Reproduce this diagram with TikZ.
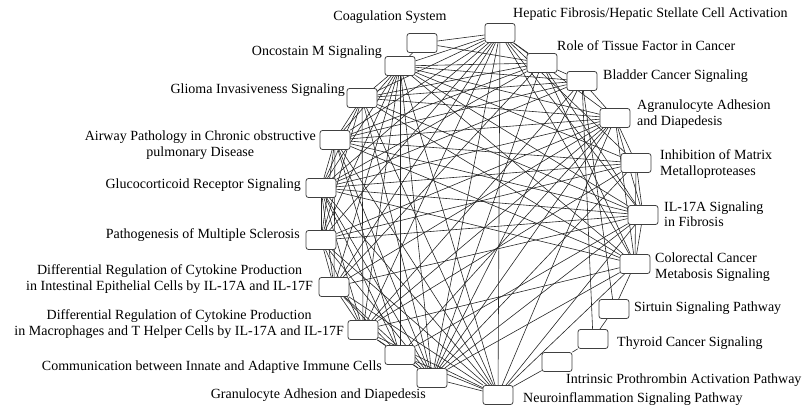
\documentclass[tikz,border=0pt]{standalone}
\usepackage{fontspec}
\setmainfont{Liberation Serif}
\usetikzlibrary{positioning, backgrounds}
\tikzset{
    pathbox/.style={rectangle, draw=black!75, fill=white, rounded corners=2.5pt, minimum width=30pt, minimum height=19pt, inner sep=0pt, line width=0.8pt},
    pathlabel/.style={font=\fontsize{14}{15.5}\selectfont, inner sep=0pt, align=#1},
    pathlabel/.default=center,
    pathlink/.style={black!85, line width=0.6pt}
}

\begin{document}
\begin{tikzpicture}[x=1pt, y=-1pt]
\useasboundingbox (0,0) rectangle (807,412);

% pathway boxes, clockwise from the top
\node[pathbox] (hep) at (500,33) {};
\node[pathbox] (tissue) at (542,63) {};
\node[pathbox] (bladder) at (582,81) {};
\node[pathbox] (agran) at (615,118) {};
\node[pathbox] (inhib) at (636,163) {};
\node[pathbox] (ilfib) at (643,215) {};
\node[pathbox] (colo) at (635,264) {};
\node[pathbox] (sirt) at (614,309) {};
\node[pathbox] (thyr) at (593,339) {};
\node[pathbox] (intr) at (557,362) {};
\node[pathbox] (neuro) at (498,395) {};
\node[pathbox] (gran) at (432,378) {};
\node[pathbox] (comm) at (400,355) {};
\node[pathbox] (diffmac) at (363,330) {};
\node[pathbox] (diffint) at (334,287) {};
\node[pathbox] (ms) at (321,240) {};
\node[pathbox] (gluco) at (321,188) {};
\node[pathbox] (airway) at (335,140) {};
\node[pathbox] (glioma) at (362,98) {};
\node[pathbox] (onco) at (400,66) {};
\node[pathbox] (coag) at (422,43) {};

% labels
\node[pathlabel] (coagl) at (390,17) {Coagulation System};
\node[pathlabel, anchor=west] (hepl) at (513,14) {Hepatic Fibrosis/Hepatic Stellate Cell Activation};
\node[pathlabel, anchor=west] (tissuel) at (557,46) {Role of Tissue Factor in Cancer};
\node[pathlabel, anchor=west] (bladderl) at (603,76) {Bladder Cancer Signaling};
\node[pathlabel=left, anchor=west] (agranl) at (637,114) {Agranulocyte Adhesion\\and Diapedesis};
\node[pathlabel=left, anchor=west] (inhibl) at (660,164) {Inhibition of Matrix\\Metalloproteases};
\node[pathlabel=left, anchor=west] (ilfibl) at (664,214) {IL-17A Signaling\\in Fibrosis};
\node[pathlabel=left, anchor=west] (colol) at (655,267) {Colorectal Cancer\\Metabosis Signaling};
\node[pathlabel, anchor=west] (sirtl) at (634,308) {Sirtuin Signaling Pathway};
\node[pathlabel, anchor=west] (thyrl) at (617,343) {Thyroid Cancer Signaling};
\node[pathlabel, anchor=west] (intrl) at (566,380) {Intrinsic Prothrombin Activation Pathway};
\node[pathlabel, anchor=west] (neurol) at (523,399) {Neuroinflammation Signaling Pathway};
\node[pathlabel, anchor=east] (granl) at (426,395) {Granulocyte Adhesion and Diapedesis};
\node[pathlabel, anchor=east] (comml) at (382,367) {Communication between Innate and Adaptive Immune Cells};
\node[pathlabel, anchor=east] (diffmacl) at (344,324) {Differential Regulation of Cytokine Production\\in Macrophages and T Helper Cells by IL-17A and IL-17F};
\node[pathlabel, anchor=east] (diffintl) at (313,279) {Differential Regulation of Cytokine Production\\in Intestinal Epithelial Cells by IL-17A and IL-17F};
\node[pathlabel, anchor=east] (msl) at (300,235) {Pathogenesis of Multiple Sclerosis};
\node[pathlabel, anchor=east] (glucol) at (301,185) {Glucocorticoid Receptor Signaling};
\node[pathlabel, anchor=east] (airwayl) at (316,145) {Airway Pathology in Chronic obstructive\\pulmonary Disease};
\node[pathlabel, anchor=east] (gliomal) at (345,90) {Glioma Invasiveness Signaling};
\node[pathlabel, anchor=east] (oncol) at (382,52) {Oncostain M Signaling};

% shared molecules between pathways
\begin{scope}[on background layer]
    \foreach \t in {tissue,agran,inhib,ilfib,colo,neuro,gran,diffmac,diffint,ms,gluco,airway,glioma,onco,coag} \draw[pathlink] (hep) -- (\t);
    \foreach \t in {bladder,ilfib,colo,gran,diffint,gluco,airway,glioma,onco,coag} \draw[pathlink] (tissue) -- (\t);
    \foreach \t in {agran,thyr,sirt,gran,gluco,airway,glioma,onco,diffmac} \draw[pathlink] (bladder) -- (\t);
    \foreach \t in {inhib,ilfib,colo,neuro,gran,comm,diffmac,diffint,ms,gluco,airway,glioma,onco} \draw[pathlink] (agran) -- (\t);
    \foreach \t in {ilfib,colo,gran,diffmac,ms,gluco,airway,onco} \draw[pathlink] (inhib) -- (\t);
    \foreach \t in {colo,neuro,gran,comm,diffint,ms,gluco,airway,glioma,onco} \draw[pathlink] (ilfib) -- (\t);
    \foreach \t in {sirt,neuro,gran,diffmac,gluco,airway,glioma,onco} \draw[pathlink] (colo) -- (\t);
    \draw[pathlink] (sirt) -- (thyr);
    \draw[pathlink] (thyr) -- (intr);
    \draw[pathlink] (intr) -- (neuro);
    \foreach \t in {gran,comm,diffmac,diffint,ms,gluco,airway,glioma,onco} \draw[pathlink] (neuro) -- (\t);
    \foreach \t in {comm,diffmac,diffint,ms,gluco,airway,glioma,onco} \draw[pathlink] (gran) -- (\t);
    \foreach \t in {diffmac,diffint,gluco,airway,onco} \draw[pathlink] (comm) -- (\t);
    \foreach \t in {diffint,ms,gluco,glioma,onco} \draw[pathlink] (diffmac) -- (\t);
    \foreach \t in {ms,gluco,airway,onco} \draw[pathlink] (diffint) -- (\t);
    \foreach \t in {gluco,airway,onco,glioma} \draw[pathlink] (ms) -- (\t);
    \foreach \t in {airway,glioma,onco} \draw[pathlink] (gluco) -- (\t);
    \foreach \t in {glioma,onco} \draw[pathlink] (airway) -- (\t);
    \draw[pathlink] (glioma) -- (onco);
    \draw[pathlink] (onco) -- (coag);
\end{scope}

\end{tikzpicture}
\end{document}
